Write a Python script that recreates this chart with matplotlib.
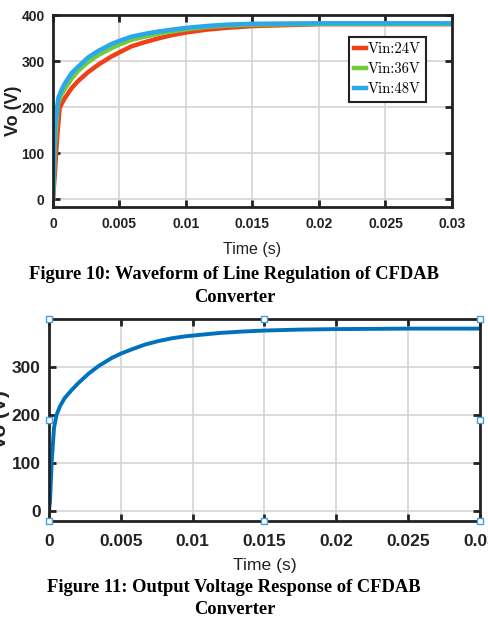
import matplotlib
matplotlib.use('Agg')
from matplotlib import pyplot as plt

# Figure 10 : line regulation (three input voltages)
t_24 = [0, 0.00015, 0.0003, 0.0005, 0.0007, 0.0009, 0.0014, 0.0019, 0.00265, 0.0034, 0.0044, 0.005,
        0.0059, 0.0069, 0.0079, 0.0089, 0.01, 0.0115, 0.013, 0.015, 0.0175, 0.02, 0.025, 0.03]
v_24 = [0, 60, 130, 198, 210, 220, 241, 257, 276, 292, 310, 319,
        332, 341, 349, 356, 362, 368, 372, 376, 378, 380, 380, 380]
t_36 = [0, 0.00015, 0.00035, 0.00065, 0.0009, 0.0014, 0.0019, 0.00265, 0.0034, 0.0044, 0.005,
        0.0059, 0.0069, 0.0079, 0.0089, 0.01, 0.0115, 0.013, 0.015, 0.02, 0.025, 0.03]
v_36 = [0, 120, 205, 228, 240, 262, 279, 298, 313, 328, 336,
        346, 353, 359, 364, 369, 374, 377, 379, 381, 381, 381]
t_48 = [0, 0.00015, 0.0004, 0.00065, 0.0009, 0.0014, 0.0019, 0.00265, 0.0034, 0.0044, 0.005,
        0.0059, 0.0069, 0.0079, 0.0089, 0.01, 0.0115, 0.013, 0.015, 0.02, 0.025, 0.03]
v_48 = [0, 157, 220, 238, 252, 274, 288, 308, 322, 337, 344,
        353, 359, 364, 368, 372, 376, 379, 381, 382, 382, 382]
labels_10 = ['Vin:24V', 'Vin:36V', 'Vin:48V']
colors_10 = ['#f0401a', '#72cc3a', '#2aa8ea']

# Figure 11 : output voltage response
t_out = [0, 0.00007, 0.00019, 0.00035, 0.00053, 0.00077, 0.0011, 0.0016, 0.00205, 0.00274, 0.00344,
         0.00437, 0.005, 0.00577, 0.0067, 0.0076, 0.00856, 0.0095, 0.0105, 0.0119, 0.0135, 0.015,
         0.0175, 0.02, 0.025, 0.03]
v_out = [0, 21, 104, 174, 201, 219, 236, 253, 267, 286, 302,
         319, 328, 337, 347, 354, 360, 364, 367, 371, 374, 376,
         378, 379, 380, 380]

xticks = [0, 0.005, 0.01, 0.015, 0.02, 0.025, 0.03]
xticklabels = ['0', '0.005', '0.01', '0.015', '0.02', '0.025', '0.03']

plt.rcParams['font.family'] = 'Liberation Sans'

fig = plt.figure(figsize=(4.89, 6.23), dpi=100)


def style(ax, fs, xpad):
    ax.grid(True, color='#d4d4d4', linewidth=1.2)
    ax.set_axisbelow(True)
    for s in ax.spines.values():
        s.set_linewidth(2)
        s.set_color('#222222')
    ax.tick_params(direction='in', length=5, width=2, top=True, right=True,
                   labelsize=fs, colors='#222222', pad=6)
    ax.tick_params(axis='x', pad=xpad)
    for lab in ax.get_xticklabels() + ax.get_yticklabels():
        lab.set_fontweight('bold')


# ---- top plot
ax1 = fig.add_axes([53 / 489, 1 - 207 / 623, 399 / 489, 192 / 623])
for t, v, lab, c in zip([t_24, t_36, t_48], [v_24, v_36, v_48], labels_10, colors_10):
    ax1.plot(t, v, color=c, linewidth=3.2, label=lab)
ax1.set_xlim(0, 0.03)
ax1.set_ylim(-17, 400)
ax1.set_xticks(xticks)
ax1.set_xticklabels(xticklabels)
ax1.set_yticks([0, 100, 200, 300, 400])
style(ax1, 10, 7)
ax1.set_xlabel('Time (s)', fontsize=11.5, color='#222222', labelpad=8)
ax1.set_ylabel('Vo (V)', fontsize=13, fontweight='bold', color='#222222')
ax1.yaxis.set_label_coords(-0.078, 0.5)
leg = ax1.legend(loc='upper right', bbox_to_anchor=(0.935, 0.885), fancybox=False,
                 edgecolor='#222222', framealpha=1, handlelength=0.8,
                 prop={'family': 'cmr10', 'size': 10.5},
                 handletextpad=0.15, borderpad=0.35, labelspacing=0.45, borderaxespad=0)
leg.get_frame().set_linewidth(1.5)

fig.text(234 / 489, 1 - 275 / 623, 'Figure 10: Waveform of Line Regulation of CFDAB',
         family='Liberation Serif', fontweight='bold', fontsize=13.3, ha='center', va='center')
fig.text(235 / 489, 1 - 298 / 623, 'Converter',
         family='Liberation Serif', fontweight='bold', fontsize=13.3, ha='center', va='center')

# ---- bottom plot
ax2 = fig.add_axes([49 / 489, 1 - 521 / 623, 431 / 489, 202 / 623])
ax2.plot(t_out, v_out, color='#0072bd', linewidth=2.8)
ax2.set_xlim(0, 0.03)
ax2.set_ylim(-20, 400)
ax2.set_xticks(xticks)
ax2.set_xticklabels(xticklabels)
ax2.set_yticks([0, 100, 200, 300])
style(ax2, 12.5, 9)
ax2.set_xlabel('Time (s)', fontsize=12.6, color='#222222', labelpad=7)
ax2.set_ylabel('Vo (V)', fontsize=15, fontweight='bold', color='#222222')
ax2.yaxis.set_label_coords(-0.09, 0.5)
# selection handles round the axes
hx = [0, 0.5, 1, 0, 1, 0, 0.5, 1]
hy = [1, 1, 1, 0.5, 0.5, 0, 0, 0]
ax2.plot(hx, hy, linestyle='none', marker='s', markersize=4, markerfacecolor='white',
         markeredgecolor='#4a9fd8', markeredgewidth=1, transform=ax2.transAxes, clip_on=False, zorder=5)

fig.text(234 / 489, 1 - 588 / 623, 'Figure 11: Output Voltage Response of CFDAB',
         family='Liberation Serif', fontweight='bold', fontsize=13.3, ha='center', va='center')
fig.text(235 / 489, 1 - 610 / 623, 'Converter',
         family='Liberation Serif', fontweight='bold', fontsize=13.3, ha='center', va='center')

fig.savefig('out.png', dpi=100)
